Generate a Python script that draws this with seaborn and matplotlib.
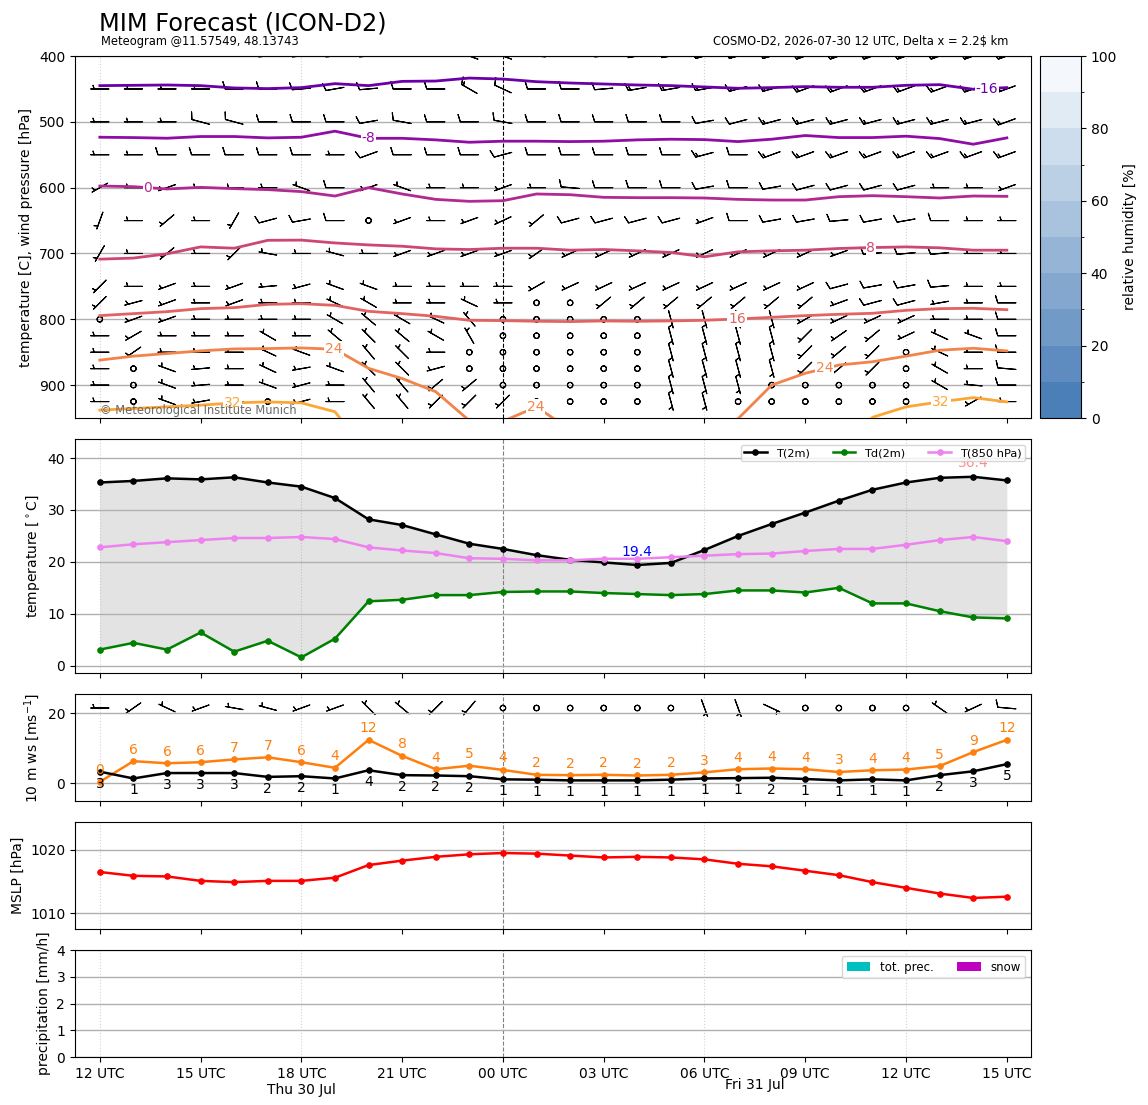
import numpy as np
import matplotlib
matplotlib.use("Agg")
import matplotlib.pyplot as plt
import matplotlib.colors as mcolors
import matplotlib.cm as mcm
import seaborn as sns

# ---------------- time axis ----------------
lead_h = list(range(28))  # hours since 2026-07-30 12 UTC
xtick_h = [0, 3, 6, 9, 12, 15, 18, 21, 24, 27]
xtick_labels = ["12 UTC", "15 UTC", "18 UTC\nThu 30 Jul", "21 UTC", "00 UTC",
                "03 UTC", "06 UTC", "09 UTC", "12 UTC", "15 UTC"]
day2_label_h = [19.5]
day2_label = ["\nFri 31 Jul"]

# ---------------- surface series ----------------
t2m = [35.3, 35.6, 36.1, 35.9, 36.3, 35.3, 34.5, 32.3, 28.2, 27.1, 25.3, 23.5, 22.5, 21.3,
       20.4, 19.9, 19.4, 19.8, 22.3, 25.0, 27.3, 29.5, 31.8, 33.9, 35.3, 36.2, 36.4, 35.7]
td2m = [3.1, 4.4, 3.1, 6.4, 2.7, 4.8, 1.6, 5.2, 12.4, 12.7, 13.6, 13.6, 14.2, 14.3,
        14.3, 14.0, 13.8, 13.6, 13.8, 14.5, 14.5, 14.1, 15.0, 12.0, 12.0, 10.5, 9.3, 9.1]
t850 = [22.8, 23.4, 23.8, 24.2, 24.6, 24.6, 24.8, 24.4, 22.8, 22.2, 21.7, 20.7, 20.6, 20.3,
        20.3, 20.6, 20.6, 20.9, 21.2, 21.5, 21.6, 22.1, 22.5, 22.5, 23.3, 24.2, 24.8, 24.0]
ws10 = [3.3, 1.35, 2.9, 2.9, 2.9, 1.8, 2.0, 1.35, 3.7, 2.3, 2.2, 2.0, 1.1, 1.0,
        0.8, 0.8, 0.8, 1.0, 1.35, 1.45, 1.55, 1.2, 0.8, 1.1, 0.8, 2.3, 3.4, 5.45]
gust10 = [0.4, 6.3, 5.7, 6.0, 6.8, 7.4, 6.0, 4.4, 12.4, 7.8, 4.0, 5.0, 3.8, 2.4,
          2.3, 2.4, 2.2, 2.4, 3.1, 4.0, 4.2, 4.0, 3.2, 3.7, 3.9, 4.9, 8.9, 12.4]
wdir10 = [270, 235, 295, 250, 280, 285, 250, 250, 315, 310, 225, 220, 200, 190,
          180, 180, 170, 165, 160, 160, 115, 200, 250, 260, 280, 305, 245, 275]
mslp = [1016.5, 1015.9, 1015.8, 1015.1, 1014.9, 1015.1, 1015.1, 1015.6, 1017.6, 1018.3,
        1018.9, 1019.3, 1019.5, 1019.4, 1019.1, 1018.8, 1018.9, 1018.8, 1018.5, 1017.8,
        1017.4, 1016.7, 1016.0, 1014.9, 1014.0, 1013.1, 1012.4, 1012.6]
prec_tot = [0.0] * 28
prec_snow = [0.0] * 28

# ---------------- isotherms (pressure of isotherm, hPa) ----------------
iso_levels = [-16, -8, 0, 8, 16, 24, 32]
iso_m16 = [445, 444.5, 444, 445, 448.5, 449.5, 448, 442, 445, 438.5, 438, 433.5, 435, 439,
           441, 442.5, 444, 445, 447, 449, 448, 446.5, 447.5, 447.5, 444.5, 443.5, 450.5, 448]
iso_m8 = [523.4, 523.9, 524.9, 522.3, 522.3, 524.4, 523.4, 514.2, 525, 525, 527.4, 531, 529.4, 529.4,
          530, 529.4, 527.4, 526.4, 527, 530, 526.4, 520.8, 523.9, 523.9, 521.8, 525.4, 534, 524.4]
iso_0 = [597.5, 598.5, 602, 599.5, 601.5, 603, 606, 612.7, 600, 609.6, 617.8, 620.8, 619.8, 609.6,
         610.7, 614.7, 615.2, 615.2, 615.7, 617.8, 618.8, 618.8, 613.7, 612.2, 613.7, 615.7, 612.7, 613.2]
iso_8 = [708.6, 707, 700.5, 690, 692, 680, 679.7, 684, 687, 689, 693, 694, 692, 692,
         695, 694, 696, 698.5, 705, 697.5, 696, 695, 692.4, 691, 690, 691.4, 695, 695]
iso_16 = [794.4, 791.4, 788.4, 783.8, 782.3, 777.3, 776.3, 778.8, 787.9, 791.4, 795.5, 801.5, 802, 803,
          803.5, 802.5, 803, 802.5, 801.5, 799.5, 797, 794.4, 792.4, 790.9, 786.4, 783.8, 783.3, 785.4]
iso_24 = [862, 856, 852, 848, 845, 844.5, 843.5, 845.5, 874.5, 890, 910, 954, 955, 933,
          968, 975, 975, 975, 975, 951, 900, 882, 869.5, 864.5, 856, 847, 844, 848]
iso_32 = [938, 935.5, 933, 930.5, 927, 925.5, 927, 940.5, 1005, 1010, 1010, 1010, 1010, 1010,
          1010, 1010, 1010, 1010, 1010, 1010, 1010, 1010, 1000, 949, 933, 925.5, 919, 925.5]
iso_label_h = {-16: [26.4], -8: [8.0], 0: [1.43], 8: [22.95], 16: [18.97],
               24: [6.97, 12.97, 21.58], 32: [3.96, 25.04]}

# ---------------- upper-air wind (direction deg, speed kt) ----------------
plevs = [400, 450, 500, 550, 600, 650, 700, 750, 775, 800, 825, 850, 875, 900, 925]
wdir_400 = [270, 270, 270, 270, 270, 265, 265, 265, 265, 270, 270, 290, 290, 275,
            270, 265, 260, 260, 255, 255, 255, 250, 250, 250, 250, 250, 250, 250]
wspd_400 = [10, 10, 10, 10, 10, 10, 15, 15, 15, 15, 15, 15, 15, 15,
            15, 15, 15, 15, 15, 15, 20, 20, 20, 20, 20, 20, 20, 20]
wdir_450 = [270, 270, 270, 270, 270, 270, 265, 260, 265, 270, 270, 300, 295, 270,
            270, 265, 260, 260, 260, 255, 255, 250, 250, 250, 250, 250, 250, 250]
wspd_450 = [5, 5, 5, 5, 10, 10, 10, 10, 10, 10, 10, 15, 10, 10,
            10, 10, 15, 15, 15, 15, 15, 15, 15, 15, 15, 15, 15, 15]
wdir_500 = [270, 270, 270, 285, 285, 270, 270, 270, 260, 280, 270, 270, 280, 270,
            270, 270, 270, 270, 260, 255, 255, 255, 255, 255, 255, 255, 255, 250]
wspd_500 = [5, 5, 5, 10, 10, 10, 10, 10, 10, 10, 10, 10, 10, 10,
            10, 10, 10, 10, 10, 10, 15, 15, 15, 15, 15, 15, 15, 15]
wdir_550 = [270, 270, 270, 270, 270, 270, 270, 270, 250, 270, 270, 270, 255, 270,
            270, 270, 270, 270, 255, 270, 250, 250, 250, 250, 250, 250, 250, 250]
wspd_550 = [5, 5, 10, 10, 10, 10, 10, 5, 10, 10, 10, 10, 10, 10,
            10, 10, 10, 10, 15, 10, 15, 15, 15, 15, 15, 15, 15, 15]
wdir_600 = [240, 270, 250, 270, 270, 270, 290, 270, 250, 290, 270, 270, 250, 270,
            275, 270, 270, 270, 260, 270, 260, 255, 255, 255, 255, 270, 270, 250]
wspd_600 = [5, 5, 5, 5, 5, 5, 5, 10, 5, 5, 5, 5, 5, 5,
            10, 10, 10, 10, 10, 10, 10, 10, 10, 10, 10, 5, 5, 5]
wdir_650 = [200, 270, 230, 270, 210, 255, 260, 270, 0, 250, 270, 250, 245, 230,
            255, 255, 255, 255, 250, 270, 260, 260, 265, 260, 260, 270, 270, 270]
wspd_650 = [5, 5, 5, 5, 5, 10, 10, 10, 0, 5, 5, 5, 5, 5,
            10, 10, 10, 10, 5, 10, 10, 10, 10, 10, 10, 10, 5, 5]
wdir_700 = [210, 270, 230, 270, 225, 280, 270, 285, 270, 250, 250, 250, 250, 235,
            245, 245, 245, 245, 245, 245, 245, 245, 250, 265, 265, 265, 270, 270]
wspd_700 = [5, 5, 5, 5, 5, 5, 5, 5, 5, 5, 5, 5, 5, 5,
            5, 5, 5, 5, 5, 5, 5, 5, 5, 10, 10, 10, 5, 5]
wdir_750 = [225, 270, 250, 270, 250, 265, 255, 290, 290, 270, 270, 270, 270, 240,
            245, 245, 245, 245, 245, 245, 245, 245, 255, 260, 260, 265, 270, 270]
wspd_750 = [5, 5, 5, 5, 5, 5, 5, 5, 5, 5, 5, 5, 5, 5,
            5, 5, 5, 5, 5, 5, 5, 5, 10, 10, 10, 10, 5, 5]
wdir_775 = [225, 255, 250, 270, 250, 270, 270, 295, 300, 270, 270, 295, 270, 0,
            0, 230, 230, 230, 230, 230, 230, 230, 250, 255, 255, 260, 270, 270]
wspd_775 = [5, 5, 5, 5, 5, 5, 5, 5, 5, 5, 5, 5, 5, 0,
            0, 5, 5, 5, 5, 5, 5, 5, 5, 10, 10, 5, 5, 10]
wdir_800 = [0, 250, 250, 270, 270, 270, 270, 300, 310, 300, 295, 320, 0, 0,
            0, 0, 0, 165, 165, 165, 165, 240, 245, 245, 245, 270, 270, 270]
wspd_800 = [0, 5, 5, 5, 5, 5, 5, 5, 5, 5, 5, 5, 0, 0,
            0, 0, 0, 5, 5, 5, 5, 5, 5, 5, 5, 5, 5, 10]
wdir_825 = [270, 240, 270, 270, 270, 300, 270, 310, 315, 310, 300, 330, 0, 0,
            0, 0, 0, 165, 165, 165, 165, 225, 235, 230, 245, 295, 290, 270]
wspd_825 = [5, 5, 5, 5, 5, 5, 5, 5, 5, 5, 5, 5, 0, 0,
            0, 0, 0, 5, 5, 5, 5, 5, 5, 5, 5, 5, 5, 10]
wdir_850 = [270, 235, 270, 270, 270, 295, 290, 300, 320, 315, 270, 0, 0, 0,
            0, 0, 0, 165, 165, 165, 165, 225, 230, 225, 0, 295, 270, 270]
wspd_850 = [5, 5, 5, 5, 5, 5, 5, 5, 5, 5, 5, 0, 0, 0,
            0, 0, 0, 5, 5, 5, 5, 5, 5, 5, 0, 5, 5, 10]
wdir_875 = [270, 0, 290, 265, 270, 295, 260, 290, 315, 315, 255, 0, 0, 0,
            0, 0, 0, 165, 165, 165, 165, 225, 230, 225, 0, 300, 270, 275]
wspd_875 = [5, 0, 5, 5, 5, 5, 5, 5, 5, 5, 5, 0, 0, 0,
            0, 0, 0, 5, 5, 5, 5, 5, 5, 5, 0, 5, 5, 10]
wdir_900 = [270, 0, 290, 265, 270, 290, 255, 270, 320, 320, 230, 230, 0, 0,
            0, 0, 0, 165, 165, 165, 0, 0, 0, 0, 0, 300, 275, 270]
wspd_900 = [5, 0, 5, 5, 5, 5, 5, 5, 5, 5, 5, 5, 0, 0,
            0, 0, 0, 5, 5, 5, 0, 0, 0, 0, 0, 5, 5, 10]
wdir_925 = [270, 0, 290, 260, 270, 0, 255, 270, 320, 320, 225, 225, 225, 0,
            0, 0, 0, 165, 165, 0, 0, 0, 0, 0, 0, 300, 240, 270]
wspd_925 = [5, 0, 5, 5, 5, 0, 5, 5, 5, 5, 5, 5, 5, 0,
            0, 0, 0, 5, 5, 0, 0, 0, 0, 0, 0, 5, 5, 5]

rh_levels = [0, 10, 20, 30, 40, 50, 60, 70, 80, 90, 100]
rh_ticks = [0, 20, 40, 60, 80, 100]

# ---------------- figure ----------------
fig = plt.figure(figsize=(11.48, 11.05), dpi=100)
L, W = 0.0653, 0.8328
ax1 = fig.add_axes([L, 0.6217, W, 0.3276])
cax = fig.add_axes([0.9059, 0.6217, 0.0357, 0.3276])
ax2 = fig.add_axes([L, 0.3910, W, 0.2118])
ax3 = fig.add_axes([L, 0.2751, W, 0.0968])
ax4 = fig.add_axes([L, 0.1593, W, 0.0968])
ax5 = fig.add_axes([L, 0.0434, W, 0.0968])

BARB_LEN = 5.1


def time_axis(ax, labels=False, midnight_color='gray'):
    ax.set_xlim(-0.74, 27.72)
    ax.set_xticks(xtick_h)
    ax.set_xticklabels(xtick_labels if labels else [])
    ax.set_xlabel('')
    ax.yaxis.grid(True, color='#b0b0b0', lw=1)
    for h in (0, 6, 18, 24):
        ax.axvline(h, color='lightgray', ls=':', lw=0.8, zorder=0.5)
    ax.axvline(12, color=midnight_color, ls='--', lw=0.8, zorder=0.5)


# ---- panel 1: isotherms + wind barbs ----
iso_series = [iso_m16, iso_m8, iso_0, iso_8, iso_16, iso_24, iso_32]
cmap_t = plt.get_cmap('plasma')
for lev, iso in zip(iso_levels, iso_series):
    col = cmap_t((lev + 32) / 80.0)
    sns.lineplot(x=lead_h, y=iso, ax=ax1, color=col, lw=2, zorder=3)
    for hx in iso_label_h[lev]:
        py = float(np.interp(hx, lead_h, iso))
        ax1.text(hx, py, f"{lev}", color=col, fontsize=10, ha='center', va='center', zorder=4,
                 bbox=dict(facecolor='white', edgecolor='none', pad=0.6))

dir_rows = [wdir_400, wdir_450, wdir_500, wdir_550, wdir_600, wdir_650, wdir_700, wdir_750,
            wdir_775, wdir_800, wdir_825, wdir_850, wdir_875, wdir_900, wdir_925]
spd_rows = [wspd_400, wspd_450, wspd_500, wspd_550, wspd_600, wspd_650, wspd_700, wspd_750,
            wspd_775, wspd_800, wspd_825, wspd_850, wspd_875, wspd_900, wspd_925]
D = np.radians(np.array(dir_rows, float))
S = np.array(spd_rows, float)
U = -S * np.sin(D)
V = -S * np.cos(D)
XX, PP = np.meshgrid(lead_h, plevs)
ax1.barbs(XX, PP, U, V, length=BARB_LEN, pivot='middle', linewidth=0.8, color='k', zorder=2)

ax1.set_ylim(950, 400)
ax1.set_yticks([400, 500, 600, 700, 800, 900])
ax1.set_ylabel('temperature [C], wind pressure [hPa]')
time_axis(ax1, midnight_color='k')
ax1.text(0.026, 0.004, '© Meteorological Institute Munich', transform=ax1.transAxes,
         fontsize=8.3, color='dimgray', va='bottom', ha='left', zorder=5)

cmap_rh = mcolors.LinearSegmentedColormap.from_list('rh', ['#4b7fb8', '#f4f8fc'], N=10)
norm_rh = mcolors.BoundaryNorm(rh_levels, cmap_rh.N)
cb = fig.colorbar(mcm.ScalarMappable(norm=norm_rh, cmap=cmap_rh), cax=cax, ticks=rh_ticks)
cb.set_label('relative humidity [%]')

# ---- panel 2: temperatures ----
ax2.fill_between(lead_h, t2m, td2m, color='gray', alpha=0.22, lw=0, zorder=1)
sns.lineplot(x=lead_h, y=t2m, ax=ax2, color='k', marker='o', markersize=4, mec='k', lw=1.8,
             label='T(2m)', zorder=3)
sns.lineplot(x=lead_h, y=td2m, ax=ax2, color='green', marker='o', markersize=4, mec='green', lw=1.8,
             label='Td(2m)', zorder=3)
sns.lineplot(x=lead_h, y=t850, ax=ax2, color='violet', marker='o', markersize=4, mec='violet', lw=1.8,
             label='T(850 hPa)', zorder=3)
imax = int(np.argmax(t2m))
imin = int(np.argmin(t2m))
ax2.text(lead_h[imax], t2m[imax] + 2.6, f"{t2m[imax]:.1f}", color='red', alpha=0.45,
         fontsize=10, ha='center', va='center')
ax2.text(lead_h[imin], t2m[imin] + 2.6, f"{t2m[imin]:.1f}", color='blue',
         fontsize=10, ha='center', va='center')
ax2.set_ylim(-1.4, 43.7)
ax2.set_yticks([0, 10, 20, 30, 40])
ax2.set_ylabel(r'temperature [$^\circ$C]')
ax2.legend(loc='upper right', ncol=3, fontsize=8.2, borderpad=0.3)
time_axis(ax2)

# ---- panel 3: 10 m wind ----
sns.lineplot(x=lead_h, y=gust10, ax=ax3, color='tab:orange', marker='o', markersize=4,
             mec='tab:orange', lw=1.8, zorder=3)
sns.lineplot(x=lead_h, y=ws10, ax=ax3, color='k', marker='o', markersize=4, mec='k', lw=1.8, zorder=3)
for h, g, w in zip(lead_h, gust10, ws10):
    ax3.text(h, g + 3.3, f"{int(np.round(g))}", color='tab:orange', fontsize=10, ha='center', va='center')
    ax3.text(h, w - 3.4, f"{int(np.round(w))}", color='k', fontsize=10, ha='center', va='center')
kt = np.array(ws10) * 1.944
D10 = np.radians(np.array(wdir10, float))
ax3.barbs(lead_h, [21.5] * len(lead_h), -kt * np.sin(D10), -kt * np.cos(D10),
          length=BARB_LEN, pivot='middle', linewidth=0.8, color='k')
ax3.set_ylim(-5.1, 25.5)
ax3.set_yticks([0, 20])
ax3.set_ylabel(r'10 m ws [ms$^{-1}$]')
time_axis(ax3)

# ---- panel 4: MSLP ----
sns.lineplot(x=lead_h, y=mslp, ax=ax4, color='red', marker='o', markersize=4, mec='red', lw=1.8, zorder=3)
ax4.set_ylim(1007.5, 1024.4)
ax4.set_yticks([1010, 1020])
ax4.set_ylabel('MSLP [hPa]')
time_axis(ax4)

# ---- panel 5: precipitation ----
ax5.bar(lead_h, prec_tot, width=0.8, color='c', label='tot. prec.')
ax5.bar(lead_h, prec_snow, width=0.8, color='m', label='snow')
ax5.set_ylim(0, 4)
ax5.set_yticks([0, 1, 2, 3, 4])
ax5.set_ylabel('precipitation [mm/h]')
ax5.legend(loc='upper right', ncol=2, fontsize=8.5)
time_axis(ax5, labels=True)
ax5.set_xticks(day2_label_h, minor=True)
ax5.set_xticklabels(day2_label, minor=True)
ax5.tick_params(axis='x', which='minor', length=0)

# ---- header ----
fig.text(0.0862, 0.9724, 'MIM Forecast (ICON-D2)', fontsize=17.3, va='baseline', ha='left')
fig.text(0.088, 0.9593, 'Meteogram @11.57549, 48.13743', fontsize=8.3, va='baseline', ha='left')
fig.text(0.878, 0.9593, 'COSMO-D2, 2026-07-30 12 UTC, Delta x = 2.2$ km', fontsize=8.3,
         va='baseline', ha='right')

fig.savefig('out.png', dpi=100)
